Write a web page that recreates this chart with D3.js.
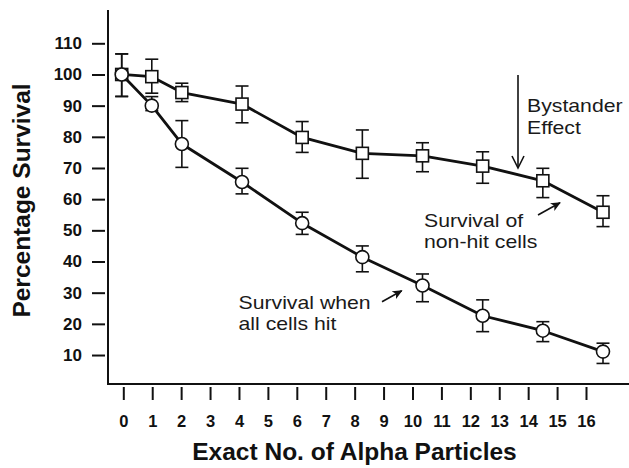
<!DOCTYPE html>
<html>
<head>
<meta charset="utf-8">
<script src="https://cdn.jsdelivr.net/npm/d3@7"></script>
<style>
  html, body { margin: 0; padding: 0; background: #fff; }
  svg { display: block; }
  text { font-family: "Liberation Sans", Arial, Helvetica, sans-serif; }
</style>
</head>
<body>
<div id="chart"></div>
<script>
// Number of alpha particles delivered per cell
const doses = [0, 1, 2, 4, 6, 8, 10, 12, 14, 16];

// Survival of non-hit (bystander) cells, % with error range
const nonHit     = [100, 99.3, 94.2, 90.5, 79.8, 74.7, 73.9, 70.6, 65.9, 55.8];
const nonHitLow  = [92.9, 94.0, 91.3, 84.5, 75.0, 66.7, 68.8, 65.1, 60.5, 51.2];
const nonHitHigh = [106.6, 104.9, 97.2, 96.3, 84.9, 82.2, 78.1, 75.2, 69.9, 61.1];

// Survival when all cells are hit, % with error range
const allHit     = [100, 90.0, 77.7, 65.5, 52.3, 41.4, 32.3, 22.6, 17.8, 11.1];
const allHitLow  = [93.0, 88.4, 70.2, 61.7, 48.7, 36.7, 27.1, 17.5, 14.3, 7.3];
const allHitHigh = [106.6, 92.9, 85.2, 69.9, 55.8, 45.0, 36.0, 27.7, 20.7, 13.8];

// Axis ticks
const xTicks = d3.range(0, 17);
const yTicks = [10, 20, 30, 40, 50, 60, 70, 80, 90, 100, 110];

const W = 629, H = 468;
const ink = "#111";

const svg = d3.select("#chart").append("svg")
  .attr("width", W).attr("height", H)
  .attr("viewBox", `0 0 ${W} ${H}`);

svg.append("rect").attr("width", W).attr("height", H).attr("fill", "#fff");

// Scales: series positions and the tick ruler along x
const x = d3.scaleLinear().domain([0, 16]).range([121.7, 603]);
const xRuler = d3.scaleLinear().domain([0, 16]).range([123.3, 586]);
const y = d3.scaleLinear().domain([0, 110]).range([386.2, 43.3]);

const axisX0 = 108, axisY0 = 384;

// Arrowhead markers
const defs = svg.append("defs");
defs.append("marker")
  .attr("id", "headFilled")
  .attr("viewBox", "0 0 10 10")
  .attr("refX", 9).attr("refY", 5)
  .attr("markerWidth", 10).attr("markerHeight", 10)
  .attr("markerUnits", "userSpaceOnUse")
  .attr("orient", "auto")
  .append("path").attr("d", "M0,0.5 L10,5 L0,9.5 L2.5,5 Z").attr("fill", ink);

// Axis frame
svg.append("line")
  .attr("x1", axisX0).attr("x2", axisX0)
  .attr("y1", 10).attr("y2", axisY0 + 1)
  .attr("stroke", ink).attr("stroke-width", 2);
svg.append("line")
  .attr("x1", axisX0 - 1).attr("x2", W)
  .attr("y1", axisY0).attr("y2", axisY0)
  .attr("stroke", ink).attr("stroke-width", 2);

// Y axis
const gy = svg.append("g")
  .attr("transform", `translate(${axisX0},0)`)
  .call(d3.axisLeft(y).tickValues(yTicks).tickSize(16).tickPadding(10));
gy.select(".domain").remove();
gy.selectAll(".tick line").attr("x1", -3).attr("stroke", ink).attr("stroke-width", 2);
gy.selectAll(".tick text")
  .attr("fill", ink)
  .style("font-size", "17px")
  .style("font-weight", "bold");

// X axis
const gx = svg.append("g")
  .attr("transform", `translate(0,${axisY0})`)
  .call(d3.axisBottom(xRuler).tickValues(xTicks).tickSize(16).tickPadding(15));
gx.select(".domain").remove();
gx.selectAll(".tick line").attr("y1", 3).attr("stroke", ink).attr("stroke-width", 2);
gx.selectAll(".tick text")
  .attr("fill", ink)
  .style("font-size", "16.5px")
  .style("font-weight", "bold");

// Axis titles
svg.append("text")
  .attr("x", 354.5).attr("y", 460)
  .attr("text-anchor", "middle")
  .attr("fill", ink)
  .style("font-size", "24.5px").style("font-weight", "bold")
  .text("Exact No. of Alpha Particles");

svg.append("text")
  .attr("transform", "translate(30,200.5) rotate(-90)")
  .attr("text-anchor", "middle")
  .attr("fill", ink)
  .style("font-size", "24.5px").style("font-weight", "bold")
  .text("Percentage Survival");

// Series
const series = [
  { name: "nonHit", values: nonHit, low: nonHitLow, high: nonHitHigh, shape: "square" },
  { name: "allHit", values: allHit, low: allHitLow, high: allHitHigh, shape: "circle" }
];

const line = d3.line().x((d, i) => x(doses[i])).y(d => y(d));

series.forEach(s => {
  svg.append("path")
    .datum(s.values)
    .attr("d", line)
    .attr("fill", "none")
    .attr("stroke", ink)
    .attr("stroke-width", 2.8)
    .attr("stroke-linejoin", "round");
});

// Error bars
const capHalf = 6.5;
series.forEach(s => {
  const g = svg.append("g").attr("stroke", ink).attr("stroke-width", 1.6);
  doses.forEach((d, i) => {
    const cx = x(d);
    g.append("line").attr("x1", cx).attr("x2", cx).attr("y1", y(s.low[i])).attr("y2", y(s.high[i]));
    g.append("line").attr("x1", cx - capHalf).attr("x2", cx + capHalf).attr("y1", y(s.low[i])).attr("y2", y(s.low[i]));
    g.append("line").attr("x1", cx - capHalf).attr("x2", cx + capHalf).attr("y1", y(s.high[i])).attr("y2", y(s.high[i]));
  });
});

// Markers (hollow)
const sq = 12;
svg.append("g").selectAll("rect")
  .data(nonHit)
  .join("rect")
  .attr("x", (d, i) => x(doses[i]) - sq / 2)
  .attr("y", d => y(d) - sq / 2)
  .attr("width", sq).attr("height", sq)
  .attr("fill", "#fff").attr("stroke", ink).attr("stroke-width", 1.6);

svg.append("g").selectAll("circle")
  .data(allHit)
  .join("circle")
  .attr("cx", (d, i) => x(doses[i]))
  .attr("cy", d => y(d))
  .attr("r", 6.5)
  .attr("fill", "#fff").attr("stroke", ink).attr("stroke-width", 1.6);

// Annotations
function label(lines, x0, y0, lh) {
  lines.forEach((t, i) => {
    svg.append("text")
      .attr("transform", `translate(${x0},${y0 + i * lh}) scale(1.18,1)`)
      .attr("fill", "#1a1a1a")
      .style("font-size", "18px")
      .text(t);
  });
}
label(["Bystander", "Effect"], 527, 112, 22);
label(["Survival of", "non-hit cells"], 424, 226.5, 21);
label(["Survival when", "all cells hit"], 238.5, 309, 21);

// Bystander arrow (open head)
svg.append("line")
  .attr("x1", 518).attr("x2", 518).attr("y1", 75).attr("y2", 167)
  .attr("stroke", ink).attr("stroke-width", 1.6);
svg.append("path")
  .attr("d", "M512,156 L518,168 L524,156")
  .attr("fill", "none").attr("stroke", ink).attr("stroke-width", 1.6);

// Pointer arrows to the curves
svg.append("line")
  .attr("x1", 538).attr("y1", 215).attr("x2", 560).attr("y2", 202.7)
  .attr("stroke", ink).attr("stroke-width", 1.6)
  .attr("marker-end", "url(#headFilled)");
svg.append("line")
  .attr("x1", 382).attr("y1", 301.7).attr("x2", 401.7).attr("y2", 290.7)
  .attr("stroke", ink).attr("stroke-width", 1.6)
  .attr("marker-end", "url(#headFilled)");
</script>
</body>
</html>
